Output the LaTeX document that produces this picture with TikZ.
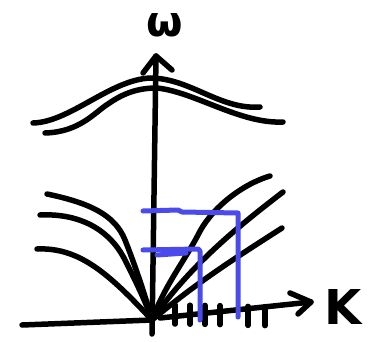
\documentclass[tikz,border=0pt]{standalone}
\usepackage{fontspec}
\newfontfamily\lblfont{DejaVu Sans}
\definecolor{penblue}{RGB}{75,75,235}
\begin{document}
\begin{tikzpicture}[x=1pt,y=-1pt,
  pen/.style={line width=5.5pt,line cap=round,line join=round,black},
  bluepen/.style={line width=5pt,line cap=round,line join=round,penblue},
  lbl/.style={inner sep=0pt,anchor=base,font=\lblfont\bfseries\fontsize{42}{42}\selectfont}]
\useasboundingbox (0,0) rectangle (380,342);
% axes
\coordinate (O) at (152,320);
\coordinate (ybot) at (152,334);
\coordinate (ytop) at (156,56);
\coordinate (xleft) at (22,325);
\coordinate (xright) at (311,302);
\draw[pen] (ybot) -- (ytop);
\draw[pen] (143,73) -- (ytop) -- (172,70);
\draw[pen] (xleft) -- (O);
\draw[pen] (160,318) -- (xright);
\draw[pen] (290,293) -- (xright) -- (298,314);
\node[lbl] (w) at (165,37) {ω};
\node[lbl,font=\lblfont\bfseries\fontsize{48}{48}\selectfont] (k) at (343,324) {K};
% ticks
\foreach \x/\d in {175/1,190/0.8,205/0.6,220/0.4,248/-0.4,265/-0.6}
  \draw[pen] (\x,{306-\d}) -- (\x,{325-\d});
% upper optical bands
\draw[pen] (33,123) .. controls (70,122) and (110,80) .. (150,78)
  .. controls (190,78) and (220,110) .. (260,107);
\draw[pen] (45,133) .. controls (80,132) and (95,112) .. (108,104)
  .. controls (125,92) and (140,88) .. (157,88)
  .. controls (195,92) and (240,124) .. (283,122);
% acoustic branches left
\draw[pen] (47,194) .. controls (90,203) and (115,215) .. (125,240)
  .. controls (135,265) and (145,295) .. (O);
\draw[pen] (40,215) .. controls (80,213) and (110,230) .. (125,260)
  .. controls (135,280) and (145,300) .. (O);
\draw[pen] (37,249) .. controls (80,247) and (110,275) .. (O);
% acoustic branches right
\draw[pen] (O) .. controls (165,285) and (185,260) .. (198,235)
  .. controls (210,210) and (240,185) .. (270,176);
\draw[pen] (O) .. controls (190,265) and (240,225) .. (283,192);
\draw[pen] (O) .. controls (200,280) and (240,255) .. (282,228);
% blue boxes
\draw[bluepen] (143,211) -- (178,210) -- (182,212) -- (238,213) -- (238,317);
\draw[bluepen] (143,250) -- (198,249) -- (200,251) -- (200,320);
\draw[bluepen] (157,255) -- (186,253);
\end{tikzpicture}
\end{document}
